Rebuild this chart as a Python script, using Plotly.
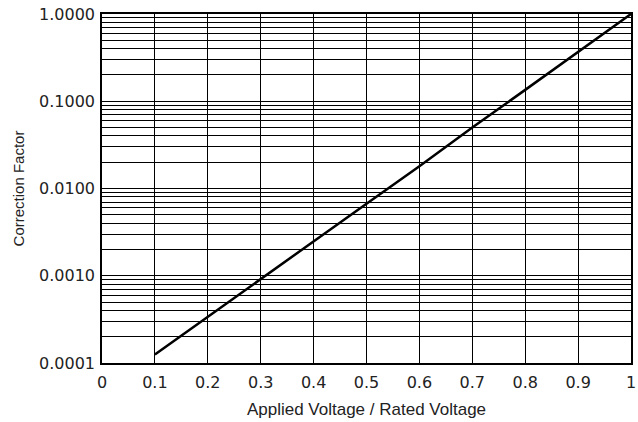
import plotly.graph_objects as go

# values
voltage_ratio = [0.1, 0.2, 0.3, 0.4, 0.5, 0.6, 0.7, 0.8, 0.9, 1.0]
correction = [0.000125, 0.00034, 0.00091, 0.0025, 0.0067, 0.018, 0.05, 0.135, 0.37, 1.0]

x_ticks = [0, 0.1, 0.2, 0.3, 0.4, 0.5, 0.6, 0.7, 0.8, 0.9, 1]
x_labels = ["0", "0.1", "0.2", "0.3", "0.4", "0.5", "0.6", "0.7", "0.8", "0.9", "1"]
y_ticks = [0.0001, 0.001, 0.01, 0.1, 1]
y_labels = ["0.0001", "0.0010", "0.0100", "0.1000", "1.0000"]

fig = go.Figure()
fig.add_trace(go.Scatter(x=voltage_ratio, y=correction, mode="lines",
                         line=dict(color="black", width=2.5), showlegend=False))

tick_font = dict(family="DejaVu Sans, sans-serif", size=16, color="#222")
title_font = "Liberation Sans, Arial, sans-serif"

fig.update_layout(
    width=638, height=422,
    margin=dict(l=102, r=7, t=14, b=59, autoexpand=False),
    paper_bgcolor="white", plot_bgcolor="white",
    xaxis=dict(range=[0, 1], tickvals=x_ticks, ticktext=x_labels, tickfont=tick_font,
               ticklabelstandoff=4,
               showgrid=True, gridcolor="black", gridwidth=1,
               showline=True, linecolor="black", linewidth=1.5, mirror=True,
               zeroline=False, ticks="", automargin=False,
               title=dict(text="Applied Voltage / Rated Voltage",
                          font=dict(family=title_font, size=17, color="#222"), standoff=12)),
    yaxis=dict(type="log", range=[-4, 0], tickvals=y_ticks, ticktext=y_labels, tickfont=tick_font,
               ticklabelstandoff=2,
               showgrid=True, gridcolor="black", gridwidth=1,
               minor=dict(dtick="D1", showgrid=True, gridcolor="black", gridwidth=1, ticks=""),
               showline=True, linecolor="black", linewidth=1.5, mirror=True,
               zeroline=False, ticks="", automargin=False,
               title=dict(text="Correction Factor",
                          font=dict(family=title_font, size=15, color="#222"), standoff=11)),
)

# drop the browser's default 8px body margin so the figure fills the window
fig.write_html("out.html", config={"displayModeBar": False},
               post_script="document.body.style.margin = '0';")
